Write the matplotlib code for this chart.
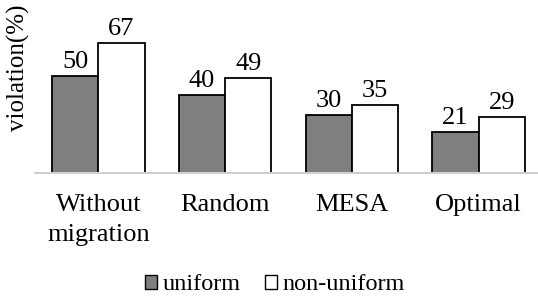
import matplotlib
matplotlib.use("Agg")
import matplotlib.pyplot as plt
import numpy as np
from matplotlib.patches import Patch

categories = ["Without\nmigration", "Random", "MESA", "Optimal"]
uniform = [50, 40, 30, 21]
non_uniform = [67, 49, 35, 29]
series_names = ["uniform", "non-uniform"]

plt.rcParams['font.family'] = ['Liberation Serif', 'DejaVu Serif']

W, H = 538, 297
fig = plt.figure(figsize=(W/100, H/100), dpi=100)
left, right = 35, 542
bottom, top = 172.7, 5
ax = fig.add_axes([left/W, 1 - bottom/H, (right-left)/W, (bottom-top)/H])

x = np.arange(len(categories))
bw = 0.365
b1 = ax.bar(x - bw/2, uniform, bw, color="#7f7f7f", edgecolor="black", linewidth=1.3)
b2 = ax.bar(x + bw/2, non_uniform, bw, color="white", edgecolor="black", linewidth=1.3)
for bars, vals in ((b1, uniform), (b2, non_uniform)):
    for r, v in zip(bars, vals):
        ax.annotate(str(v), (r.get_x() + r.get_width()/2, r.get_height()),
                    xytext=(0, 2), textcoords="offset points",
                    ha="center", va="bottom", fontsize=19)

ax.set_xlim(-0.5, 3.5)
ax.set_ylim(0, (bottom - top) / 1.936)
for s in ["top", "right", "left"]:
    ax.spines[s].set_visible(False)
ax.spines["bottom"].set_color("#d0d0d0")
ax.spines["bottom"].set_linewidth(1.5)
ax.set_yticks([])
ax.set_xticks(x)
ax.set_xticklabels(categories, fontsize=19, linespacing=1.5)
ax.tick_params(axis="x", length=0, pad=15)
ax.set_ylabel("violation(%)", fontsize=18)
ax.yaxis.set_label_coords(-(left - 30)/(right-left), 1 - (68 - top)/(bottom - top))

handles = [Patch(facecolor="#7f7f7f", edgecolor="black", linewidth=1.0),
           Patch(facecolor="white", edgecolor="black", linewidth=1.0)]
fig.legend(handles, series_names, loc="center", bbox_to_anchor=(275/W, 1 - 285/H),
           ncol=2, frameon=False, fontsize=17.5, handlelength=0.48, handleheight=0.48,
           handletextpad=0.25, columnspacing=1.0, borderpad=0, borderaxespad=0)

fig.savefig("out.png", dpi=100)
